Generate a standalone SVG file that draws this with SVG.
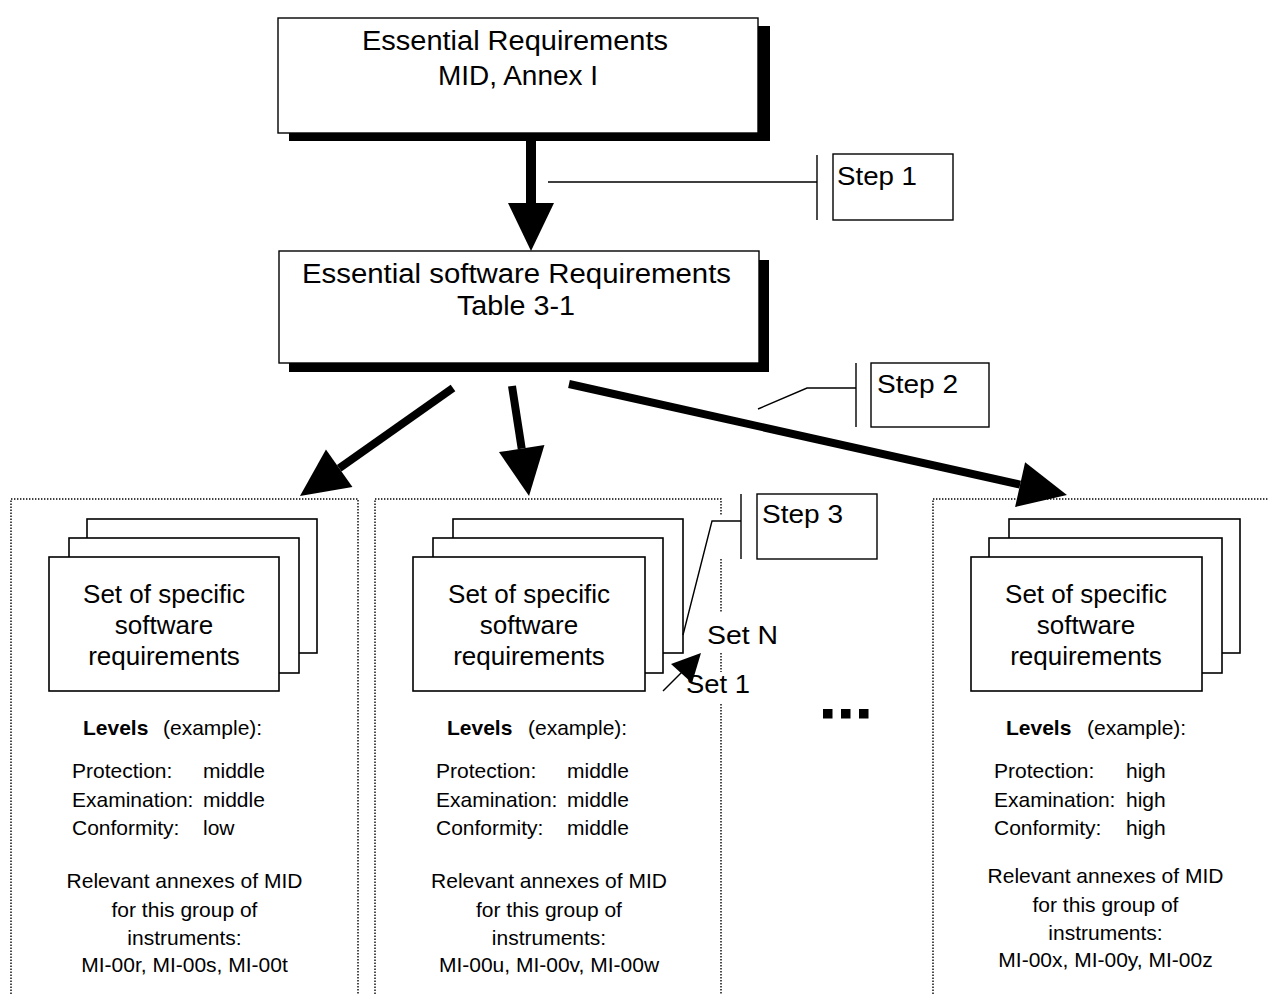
<svg xmlns="http://www.w3.org/2000/svg" width="1268" height="995" viewBox="0 0 1268 995">
<style>
text{font-family:"Liberation Sans",Arial,Helvetica,sans-serif;fill:#000}
.big{font-size:27px}
.step{font-size:26px}
.set{font-size:26px;text-anchor:middle}
.sm{font-size:21px}
.ctr{text-anchor:middle}
.b{font-weight:bold}
.box{fill:#fff;stroke:#000;stroke-width:1.4}
.shadow{fill:#000}
.card{fill:#fff;stroke:#000;stroke-width:1.6}
.thin{fill:none;stroke:#000;stroke-width:1.4}
.thick{fill:none;stroke:#000;stroke-width:8}
.dot{fill:none;stroke:#000;stroke-width:1.4;stroke-dasharray:1.4 1.6}
</style>
<defs>
<marker id="ah" markerUnits="userSpaceOnUse" markerWidth="50" markerHeight="46" refX="0" refY="23" orient="auto" overflow="visible">
<path d="M0,0 L48,23 L0,46 z" fill="#000"/>
</marker>
</defs>
<rect width="1268" height="995" fill="#fff"/>

<g id="containers">
<path class="dot" d="M11,1000 V499 H358 V1000"/>
<path class="dot" d="M375,1000 V499 H721 V516 M721,559 V612 M721,653 V672 M721,704 V1000"/>
<path class="dot" d="M933,1000 V499 H1270"/>
</g>

<g id="essential-requirements">
<rect class="shadow" x="289" y="26" width="481" height="115"/>
<rect class="box" x="278" y="18" width="480" height="115"/>
<text class="big ctr" x="515" y="50" textLength="306" lengthAdjust="spacingAndGlyphs">Essential Requirements</text>
<text class="big ctr" x="518" y="85" textLength="160" lengthAdjust="spacingAndGlyphs">MID, Annex I</text>
</g>

<g id="essential-software-requirements">
<rect class="shadow" x="289" y="260" width="480" height="112"/>
<rect class="box" x="279" y="251" width="480" height="112"/>
<text class="big ctr" x="516.5" y="283" textLength="429" lengthAdjust="spacingAndGlyphs">Essential software Requirements</text>
<text class="big ctr" x="516" y="315" textLength="118" lengthAdjust="spacingAndGlyphs">Table 3-1</text>
</g>

<g id="step1">
<rect class="thin" x="833" y="154" width="120" height="66"/>
<text class="step" x="837" y="185" textLength="80" lengthAdjust="spacingAndGlyphs">Step 1</text>
</g>
<g id="step2">
<rect class="thin" x="871" y="363" width="118" height="64"/>
<text class="step" x="877" y="393" textLength="81" lengthAdjust="spacingAndGlyphs">Step 2</text>
</g>
<g id="step3">
<rect class="thin" x="757" y="494" width="120" height="65"/>
<text class="step" x="762" y="523" textLength="81" lengthAdjust="spacingAndGlyphs">Step 3</text>
</g>

<g id="group-left">
<rect class="card" x="87" y="519" width="230" height="134"/>
<rect class="card" x="69" y="538" width="230" height="135"/>
<rect class="card" x="49" y="557" width="230" height="134"/>
<text class="set" x="164" y="603">Set of specific</text>
<text class="set" x="164" y="634">software</text>
<text class="set" x="164" y="665">requirements</text>
<text class="sm" y="735"><tspan class="b" x="83">Levels</tspan><tspan x="163">(example):</tspan></text>
<text class="sm" y="778"><tspan x="72">Protection:</tspan><tspan x="203">middle</tspan></text>
<text class="sm" y="807"><tspan x="72">Examination:</tspan><tspan x="203">middle</tspan></text>
<text class="sm" y="835"><tspan x="72">Conformity:</tspan><tspan x="203">low</tspan></text>
<text class="sm ctr" x="184.5" y="888">Relevant annexes of MID</text>
<text class="sm ctr" x="184.5" y="917">for this group of</text>
<text class="sm ctr" x="184.5" y="945">instruments:</text>
<text class="sm ctr" x="184.5" y="972">MI-00r, MI-00s, MI-00t</text>
</g>

<g id="group-middle">
<rect class="card" x="453" y="519" width="230" height="134"/>
<rect class="card" x="433" y="538" width="230" height="135"/>
<rect class="card" x="413" y="557" width="232" height="134"/>
<text class="set" x="529" y="603">Set of specific</text>
<text class="set" x="529" y="634">software</text>
<text class="set" x="529" y="665">requirements</text>
<text class="sm" y="735"><tspan class="b" x="447">Levels</tspan><tspan x="528">(example):</tspan></text>
<text class="sm" y="778"><tspan x="436">Protection:</tspan><tspan x="567">middle</tspan></text>
<text class="sm" y="807"><tspan x="436">Examination:</tspan><tspan x="567">middle</tspan></text>
<text class="sm" y="835"><tspan x="436">Conformity:</tspan><tspan x="567">middle</tspan></text>
<text class="sm ctr" x="549" y="888">Relevant annexes of MID</text>
<text class="sm ctr" x="549" y="917">for this group of</text>
<text class="sm ctr" x="549" y="945">instruments:</text>
<text class="sm ctr" x="549" y="972">MI-00u, MI-00v, MI-00w</text>
</g>

<g id="group-right">
<rect class="card" x="1009" y="519" width="231" height="134"/>
<rect class="card" x="989" y="538" width="233" height="135"/>
<rect class="card" x="971" y="557" width="231" height="134"/>
<text class="set" x="1086" y="603">Set of specific</text>
<text class="set" x="1086" y="634">software</text>
<text class="set" x="1086" y="665">requirements</text>
<text class="sm" y="735"><tspan class="b" x="1006">Levels</tspan><tspan x="1087">(example):</tspan></text>
<text class="sm" y="778"><tspan x="994">Protection:</tspan><tspan x="1126">high</tspan></text>
<text class="sm" y="807"><tspan x="994">Examination:</tspan><tspan x="1126">high</tspan></text>
<text class="sm" y="835"><tspan x="994">Conformity:</tspan><tspan x="1126">high</tspan></text>
<text class="sm ctr" x="1105.5" y="883">Relevant annexes of MID</text>
<text class="sm ctr" x="1105.5" y="912">for this group of</text>
<text class="sm ctr" x="1105.5" y="940">instruments:</text>
<text class="sm ctr" x="1105.5" y="967">MI-00x, MI-00y, MI-00z</text>
</g>

<g id="set-labels">
<text class="step" x="707" y="644" textLength="71" lengthAdjust="spacingAndGlyphs">Set N</text>
<text class="step" x="686" y="693" textLength="64" lengthAdjust="spacingAndGlyphs">Set 1</text>
</g>

<g id="ellipsis">
<rect x="823" y="709" width="9.5" height="9.5"/>
<rect x="841" y="709" width="9.5" height="9.5"/>
<rect x="859" y="709" width="9.5" height="9.5"/>
</g>

<g id="connectors">
<path class="thick" style="stroke-width:10" d="M531,141 V203" marker-end="url(#ah)"/>
<path class="thick" d="M453,388 L339.2,468.3" marker-end="url(#ah)"/>
<path class="thick" d="M512,386 L521.7,448.6" marker-end="url(#ah)"/>
<path class="thick" d="M569,384 L1020.1,484.6" marker-end="url(#ah)"/>
<path class="thin" d="M548,182 H817 M817,155 V220"/>
<path class="thin" d="M758,409 L807,388 H856 M856,363 V427"/>
<path class="thin" d="M683,635 L712,521 H741 M741,494 V559"/>
<path class="thin" d="M663,691 L686,668"/>
<polygon points="701,653 671,664 692,683" fill="#000"/>
</g>
</svg>
